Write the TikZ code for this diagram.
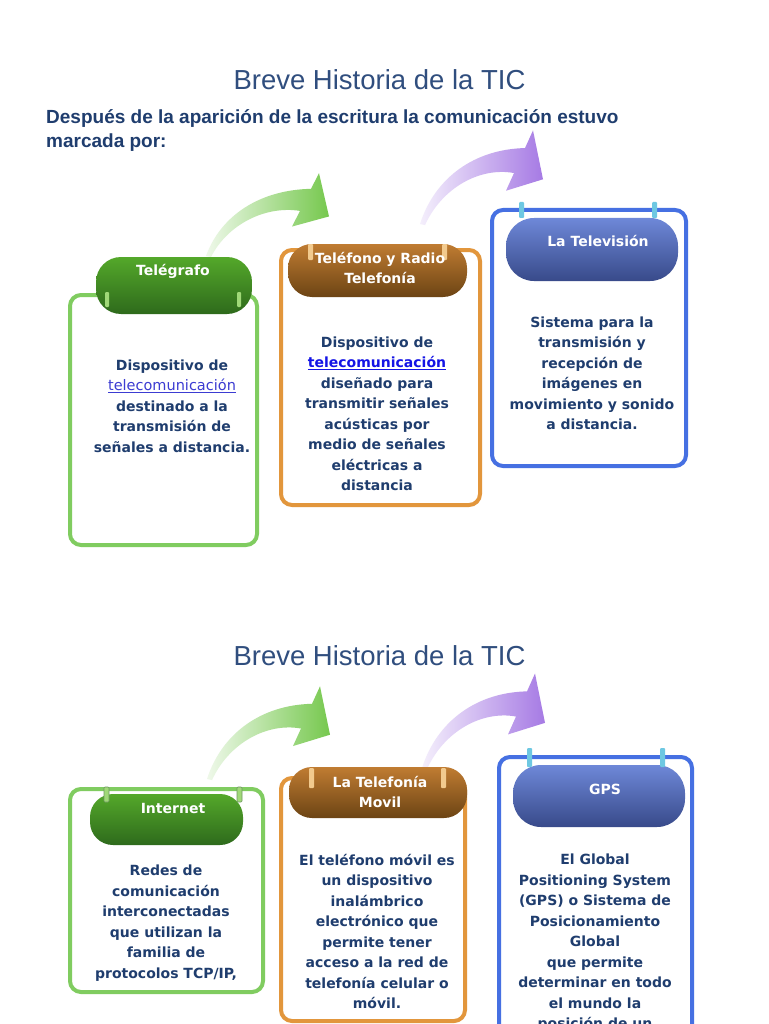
\documentclass[tikz,border=0pt]{standalone}
\usepackage{fontspec}
\setmainfont{DejaVu Sans}
\newfontfamily\titlefont{Liberation Sans}
\definecolor{gline}{RGB}{128,204,96}
\definecolor{gtop}{RGB}{84,168,42}
\definecolor{gbot}{RGB}{46,106,28}
\definecolor{gtab}{RGB}{160,216,120}
\definecolor{oline}{RGB}{226,150,60}
\definecolor{otop}{RGB}{192,124,50}
\definecolor{obot}{RGB}{108,68,20}
\definecolor{otab}{RGB}{242,202,142}
\definecolor{bline}{RGB}{70,112,226}
\definecolor{btop}{RGB}{110,136,216}
\definecolor{bbot}{RGB}{56,74,138}
\definecolor{btab}{RGB}{110,200,226}
\definecolor{txtblue}{RGB}{31,61,110}
\definecolor{ttlblue}{RGB}{48,78,126}
\definecolor{linkA}{RGB}{60,60,210}
\definecolor{linkB}{RGB}{20,20,230}
\definecolor{arrgreen}{RGB}{118,200,78}
\definecolor{arrpurple}{RGB}{166,122,228}
\newcommand\myCurvedArrow[4]{%
  \begin{scope}[shift={(#1,#2)},yscale=#4]
    \shade[left color=#3!12, right color=#3]
      (0,0) .. controls (15,-45) and (55,-72) .. (105,-73)
      -- (113,-90) -- (123,-43) -- (86,-32) -- (94,-49)
      .. controls (60,-55) and (22,-35) .. (5,1) -- cycle;
  \end{scope}}
\begin{document}
\begin{tikzpicture}[x=1pt,y=-1pt,
  titletxt/.style={inner sep=0pt, text=ttlblue, font=\titlefont\fontsize{27.5}{30}\selectfont},
  subtxt/.style={inner sep=0pt, text=txtblue, align=left, font=\titlefont\bfseries\fontsize{19}{24}\selectfont},
  boxframe/.style={draw, line width=4pt, rounded corners=11pt, inner sep=0pt},
  pill/.style={inner sep=0pt, draw=none},
  headtxt/.style={inner sep=0pt, text=white, align=center, font=\bfseries\fontsize{14}{20}\selectfont},
  bodytxt/.style={inner sep=0pt, text=txtblue, align=center, font=\bfseries\fontsize{14}{20.5}\selectfont},
]
\useasboundingbox (0,0) rectangle (768,1024);
\clip (0,0) rectangle (768,1024);
\fill[white] (0,0) rectangle (768,1024);

% ---------- top section ----------
\node (title1) [titletxt] at (379.5,80) {Breve Historia de la TIC};
\node (sub) [subtxt, anchor=west] at (46,131) {Después de la aparición de la escritura la comunicación estuvo\\marcada por:};

\myCurvedArrow{206}{256}{arrgreen}{0.92}
\myCurvedArrow{420}{224}{arrpurple}{1.04}

% box 1
\node (b1) [boxframe, draw=gline, minimum width=187pt, minimum height=250pt] at (163.5,420) {};
\node (p1) [pill, top color=gtop, bottom color=gbot, rounded corners=25pt, minimum width=156pt, minimum height=57pt] at (174,285.5) {};
\fill[gtab, rounded corners=1pt] (105,292) rectangle (109,307);
\fill[gtab, rounded corners=1pt] (237,292) rectangle (241,307);
\node (h1) [headtxt] at (173,271) {Telégrafo};
\node (t1) [bodytxt] at (172,406) {Dispositivo de\\{\mdseries\fontsize{14.5}{20.5}\selectfont\color{linkA}\underline{telecomunicación}}\\destinado a la\\transmisión de\\señales a distancia.};

% box 2
\node (b2) [boxframe, draw=oline, minimum width=199pt, minimum height=255pt] at (380.5,377.5) {};
\node (p2) [pill, top color=otop, bottom color=obot, rounded corners=24pt, minimum width=179pt, minimum height=53pt] at (377.5,270.5) {};
\fill[otab, rounded corners=1pt] (308,244) rectangle (313,260);
\fill[otab, rounded corners=1pt] (442,244) rectangle (447,260);
\node (h2) [headtxt] at (380,268) {Teléfono y Radio\\Telefonía};
\node (t2) [bodytxt] at (377,414) {Dispositivo de\\{\color{linkB}\underline{telecomunicación}}\\diseñado para\\transmitir señales\\acústicas por\\medio de señales\\eléctricas a\\distancia};

% box 3
\node (b3) [boxframe, draw=bline, minimum width=194pt, minimum height=256pt] at (589,338) {};
\node (p3) [pill, top color=btop, bottom color=bbot, rounded corners=28pt, minimum width=172pt, minimum height=63pt] at (592,249.5) {};
\fill[btab, rounded corners=1pt] (519,202) rectangle (524,218);
\fill[btab, rounded corners=1pt] (652,202) rectangle (657,218);
\node (h3) [headtxt] at (598,241) {La Televisión};
\node (t3) [bodytxt] at (592,373.5) {Sistema para la\\transmisión y\\recepción de\\imágenes en\\movimiento y sonido\\a distancia.};

% ---------- bottom section ----------
\node (title2) [titletxt] at (379.5,656) {Breve Historia de la TIC};

\myCurvedArrow{207}{779}{arrgreen}{1.03}
\myCurvedArrow{422}{768}{arrpurple}{1.05}

% box 4
\node (b4) [boxframe, draw=gline, minimum width=193pt, minimum height=203pt] at (166.5,890.5) {};
\node (p4) [pill, top color=gtop, bottom color=gbot, rounded corners=23pt, minimum width=153pt, minimum height=51pt] at (166.5,819.5) {};
\filldraw[fill=gtab, draw=gbot!70, line width=0.6pt, rounded corners=1pt] (104,787) rectangle (109,802);
\filldraw[fill=gtab, draw=gbot!70, line width=0.6pt, rounded corners=1pt] (237,787) rectangle (242,802);
\node (h4) [headtxt] at (173,808) {Internet};
\node (t4) [bodytxt] at (166,923) {Redes de\\comunicación\\interconectadas\\que utilizan la\\familia de\\protocolos TCP/IP,};

% box 5
\node (b5) [boxframe, draw=oline, minimum width=184pt, minimum height=243pt] at (373,899.5) {};
\node (p5) [pill, top color=otop, bottom color=obot, rounded corners=23pt, minimum width=178pt, minimum height=51pt] at (378,792.5) {};
\fill[otab, rounded corners=1pt] (309,768) rectangle (314,788);
\fill[otab, rounded corners=1pt] (441,768) rectangle (446,788);
\node (h5) [headtxt] at (380,792) {La Telefonía\\Movil};
\node (t5) [bodytxt] at (377,931.5) {El teléfono móvil es\\un dispositivo\\inalámbrico\\electrónico que\\permite tener\\acceso a la red de\\telefonía celular o\\móvil.};

% box 6
\node (b6) [boxframe, draw=bline, minimum width=193pt, minimum height=303pt] at (595.5,908.5) {};
\node (p6) [pill, top color=btop, bottom color=bbot, rounded corners=28pt, minimum width=172pt, minimum height=62pt] at (599,796) {};
\fill[btab, rounded corners=1pt] (527,748) rectangle (532,767);
\fill[btab, rounded corners=1pt] (660,748) rectangle (665,767);
\node (h6) [headtxt] at (605,789) {GPS};
\node (t6) [bodytxt] at (595,943) {El Global\\Positioning System\\(GPS) o Sistema de\\Posicionamiento\\Global\\que permite\\determinar en todo\\el mundo la\\posición de un};
\end{tikzpicture}
\end{document}
